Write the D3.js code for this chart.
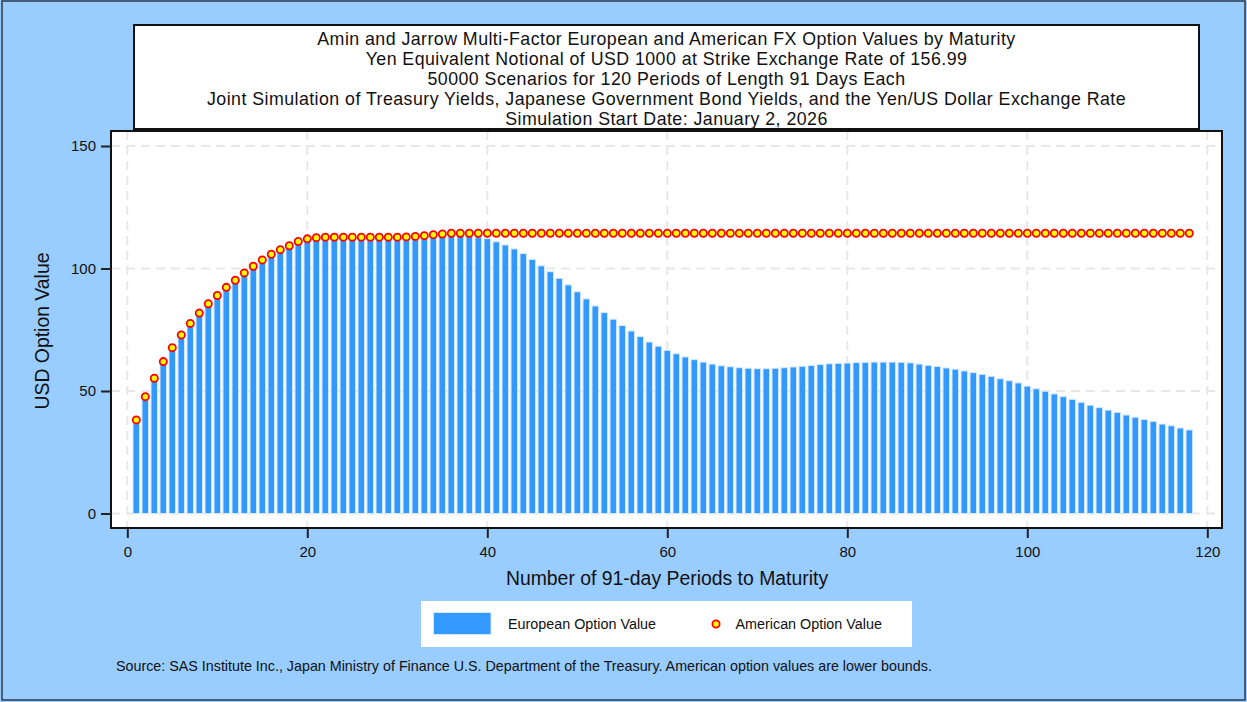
<!DOCTYPE html>
<html>
<head>
<meta charset="utf-8">
<script src="https://cdn.jsdelivr.net/npm/d3@7"></script>
<style>
  body { margin: 0; background: #99ccff; }
  svg text { font-family: "Liberation Sans", Arial, sans-serif; fill: #111; }
</style>
</head>
<body>
<script>
// title lines
var titleLines = [
  "Amin and Jarrow Multi-Factor European and American FX Option Values by Maturity",
  "Yen Equivalent Notional of USD 1000 at Strike Exchange Rate of 156.99",
  "50000 Scenarios for 120 Periods of Length 91 Days Each",
  "Joint Simulation of Treasury Yields, Japanese Government Bond Yields, and the Yen/US Dollar Exchange Rate",
  "Simulation Start Date: January 2, 2026"
];
var xTicks = [0, 20, 40, 60, 80, 100, 120];
var yTicks = [0, 50, 100, 150];

// periods 1..118
var periods = [
  1,2,3,4,5,6,7,8,9,10,11,12,13,14,15,16,17,18,19,20,
  21,22,23,24,25,26,27,28,29,30,31,32,33,34,35,36,37,38,39,40,
  41,42,43,44,45,46,47,48,49,50,51,52,53,54,55,56,57,58,59,60,
  61,62,63,64,65,66,67,68,69,70,71,72,73,74,75,76,77,78,79,80,
  81,82,83,84,85,86,87,88,89,90,91,92,93,94,95,96,97,98,99,100,
  101,102,103,104,105,106,107,108,109,110,111,112,113,114,115,116,117,118
];
var european = [
  37.6,47.2,54.7,61.5,67.2,72.4,77.1,81.3,85.1,88.5,91.8,94.7,97.7,100.4,103.0,105.2,107.1,108.7,110.2,111.1,
  111.6,111.9,112.0,112.1,112.2,112.3,112.4,112.5,112.6,112.7,112.8,112.9,113.0,113.1,113.2,113.2,113.3,113.2,112.9,112.2,
  110.9,109.6,108.0,106.1,103.7,101.1,98.7,96.0,93.3,90.5,87.6,84.7,82.0,79.3,76.7,74.5,72.2,70.0,68.3,66.6,
  65.2,63.9,62.8,61.8,61.0,60.3,59.9,59.5,59.3,59.1,59.1,59.3,59.5,59.8,60.1,60.4,60.8,61.1,61.3,61.4,
  61.6,61.7,61.8,61.8,61.8,61.7,61.5,61.0,60.5,60.0,59.4,58.9,58.2,57.5,56.8,56.0,55.0,54.2,53.3,52.0,
  50.9,49.9,48.8,47.7,46.6,45.4,44.2,43.2,42.2,41.3,40.2,39.3,38.4,37.6,36.5,35.8,34.9,34.1
];
var american = [
  38.2,47.7,55.2,62.0,67.7,72.9,77.6,81.8,85.6,89.0,92.3,95.2,98.2,100.9,103.5,105.8,107.7,109.3,111.0,112.1,
  112.6,112.8,112.8,112.8,112.8,112.8,112.8,112.8,112.8,112.8,112.9,113.1,113.4,113.8,114.1,114.4,114.4,114.4,114.4,114.4,
  114.4,114.4,114.4,114.4,114.4,114.4,114.4,114.4,114.4,114.4,114.4,114.4,114.4,114.4,114.4,114.4,114.4,114.4,114.4,114.4,
  114.4,114.4,114.4,114.4,114.4,114.4,114.4,114.4,114.4,114.4,114.4,114.4,114.4,114.4,114.4,114.4,114.4,114.4,114.4,114.4,
  114.4,114.4,114.4,114.4,114.4,114.4,114.4,114.4,114.4,114.4,114.4,114.4,114.4,114.4,114.4,114.4,114.4,114.4,114.4,114.4,
  114.4,114.4,114.4,114.4,114.4,114.4,114.4,114.4,114.4,114.4,114.4,114.4,114.4,114.4,114.4,114.4,114.4,114.4
];

var W = 1247, H = 702;
var frame = {x0: 111, x1: 1222, y0: 131, y1: 528};
var blue = '#3399ff';

var svg = d3.select('body').append('svg').attr('width', W).attr('height', H);

// outer background + border
svg.append('rect').attr('x', 2).attr('y', 1).attr('width', W - 4).attr('height', H - 3)
  .attr('fill', '#99ccff').attr('stroke', '#2b3a4a').attr('stroke-width', 1.5);

// title box
svg.append('rect').attr('x', 134).attr('y', 25).attr('width', 1065).attr('height', 104)
  .attr('fill', 'white').attr('stroke', '#111').attr('stroke-width', 2);
svg.selectAll('text.title').data(titleLines).enter().append('text')
  .attr('class', 'title')
  .attr('x', 666.5).attr('y', (d, i) => 44.5 + i * 20)
  .attr('text-anchor', 'middle').style('font-size', '17.8px')
  .style('letter-spacing', '0.45px')
  .text(d => d);

// scales
var xScale = d3.scaleLinear().domain([0, 120]).range([127.3, 1207.3]);
var yScale = d3.scaleLinear().domain([0, 150]).range([513.5, 146]);

// plot frame
svg.append('rect').attr('x', frame.x0).attr('y', frame.y0)
  .attr('width', frame.x1 - frame.x0).attr('height', frame.y1 - frame.y0)
  .attr('fill', 'white');

// grid
var grid = svg.append('g').attr('stroke', '#e8e8e8').attr('stroke-width', 2)
  .attr('stroke-dasharray', '9,6');
grid.selectAll('line.h').data(yTicks).enter().append('line')
  .attr('x1', frame.x0).attr('x2', frame.x1)
  .attr('y1', d => yScale(d)).attr('y2', d => yScale(d));
grid.selectAll('line.v').data(xTicks).enter().append('line')
  .attr('y1', frame.y0).attr('y2', frame.y1)
  .attr('x1', d => xScale(d)).attr('x2', d => xScale(d));

// european bars
var bw = 6.6;
svg.append('g').selectAll('rect').data(periods).enter().append('rect')
  .attr('x', (d) => xScale(d) - bw / 2)
  .attr('width', bw)
  .attr('y', (d, i) => yScale(european[i]))
  .attr('height', (d, i) => yScale(0) - yScale(european[i]))
  .attr('fill', blue).attr('stroke', '#d4e9ff').attr('stroke-width', 1);

// american markers
svg.append('g').selectAll('circle').data(periods).enter().append('circle')
  .attr('cx', d => xScale(d))
  .attr('cy', (d, i) => yScale(american[i]))
  .attr('r', 3.6)
  .attr('fill', '#ffff00').attr('stroke', '#ff0000').attr('stroke-width', 1.8);

// frame border
svg.append('rect').attr('x', frame.x0).attr('y', frame.y0)
  .attr('width', frame.x1 - frame.x0).attr('height', frame.y1 - frame.y0)
  .attr('fill', 'none').attr('stroke', '#111').attr('stroke-width', 2);

// axes
var yAxis = d3.axisLeft(yScale).tickValues(yTicks).tickSize(10).tickPadding(5);
var yg = svg.append('g').attr('transform', 'translate(' + frame.x0 + ',0)').call(yAxis);
var xAxis = d3.axisBottom(xScale).tickValues(xTicks).tickSize(10).tickPadding(8);
var xg = svg.append('g').attr('transform', 'translate(0,' + frame.y1 + ')').call(xAxis);
[yg, xg].forEach(g => {
  g.select('.domain').remove();
  g.selectAll('.tick line').attr('stroke', '#222').attr('stroke-width', 2);
  g.selectAll('.tick text').style('font-size', '15px')
    .style('font-family', '"Liberation Sans", Arial, sans-serif').attr('fill', '#111');
});

// axis titles
svg.append('text').attr('transform', 'translate(49,331) rotate(-90)')
  .attr('text-anchor', 'middle').style('font-size', '19.4px').text('USD Option Value');
svg.append('text').attr('x', 667).attr('y', 585)
  .attr('text-anchor', 'middle').style('font-size', '19.4px')
  .text('Number of 91-day Periods to Maturity');

// legend
var lg = svg.append('g');
lg.append('rect').attr('x', 421).attr('y', 601).attr('width', 491).attr('height', 46).attr('fill', 'white');
lg.append('rect').attr('x', 433.5).attr('y', 612.5).attr('width', 57.5).attr('height', 22)
  .attr('fill', blue).attr('stroke', '#d4e9ff').attr('stroke-width', 1);
lg.append('text').attr('x', 508).attr('y', 629).style('font-size', '14.35px').text('European Option Value');
lg.append('circle').attr('cx', 716).attr('cy', 624).attr('r', 3.6)
  .attr('fill', '#ffff00').attr('stroke', '#ff0000').attr('stroke-width', 1.8);
lg.append('text').attr('x', 735.5).attr('y', 629).style('font-size', '14.35px').text('American Option Value');

// source note
svg.append('text').attr('x', 116).attr('y', 670.5).style('font-size', '14.3px')
  .text('Source: SAS Institute Inc., Japan Ministry of Finance U.S. Department of the Treasury. American option values are lower bounds.');
</script>
</body>
</html>
